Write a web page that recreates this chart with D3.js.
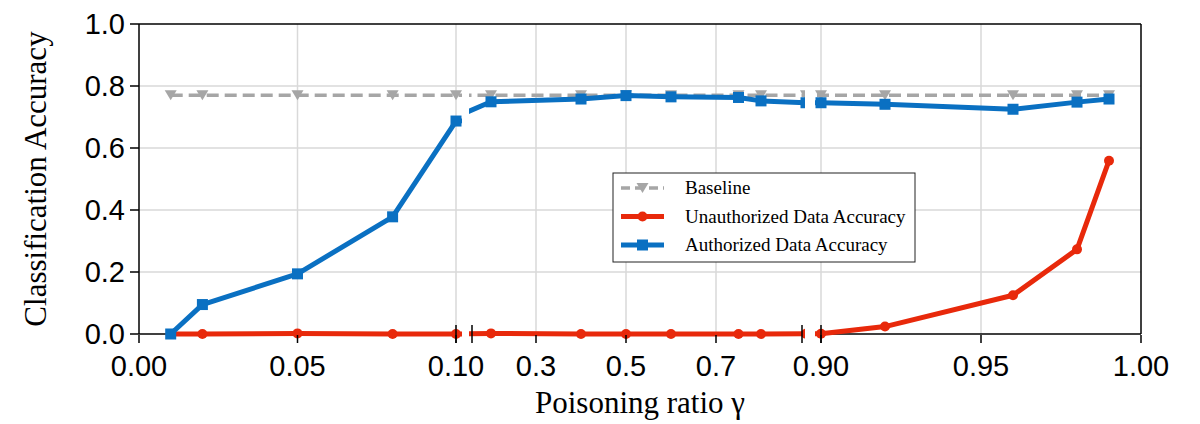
<html>
<script src='https://d3js.org/d3.v7.min.js'></script>
<style>
body {margin: 0; background: white;}
.grid line {stroke: #d9d9d9; stroke-width: 1.5;}
.tick-label {font: 29px "Liberation Sans", Arial, sans-serif; fill: black;}
.axis-title {font: 31px "Liberation Serif", "Times New Roman", serif; fill: black;}
.legend text {font: 19px "Liberation Serif", "Times New Roman", serif; fill: black;}
</style>
<body>
<svg width=1200 height=424></svg>
<script>
// poisoning ratios (x) and accuracies
var ratios = [0.01, 0.02, 0.05, 0.08, 0.10, 0.2, 0.4, 0.5, 0.6, 0.75, 0.8, 0.9, 0.92, 0.96, 0.98, 0.99];
var baseline = [0.77, 0.77, 0.77, 0.77, 0.77, 0.77, 0.77, 0.77, 0.77, 0.77, 0.77, 0.77, 0.77, 0.77, 0.77, 0.77];
var unauthorized = [0.0, 0.0, 0.002, 0.0, 0.0, 0.002, 0.0, 0.0, 0.0, 0.0, 0.0, 0.001, 0.024, 0.125, 0.273, 0.559];
var authorized = [0.0, 0.095, 0.194, 0.378, 0.687, 0.749, 0.758, 0.769, 0.765, 0.763, 0.752, 0.746, 0.741, 0.725, 0.748, 0.758];
var yTicks = [0, 0.2, 0.4, 0.6, 0.8, 1.0];
var segTicks = [[0, 0.05, 0.10], [0.3, 0.5, 0.7], [0.90, 0.95, 1.00]];
var segFormats = [".2f", ".1f", ".2f"];
var segDomains = [[0, 0.10], [0.16, 0.89], [0.90, 1.00]];

function draw() {
var pLeft = 139, pRight = 1141, pTop = 24, pBottom = 334;
// pixel extent of each broken-axis piece
var segRanges = [[139, 456], [473, 801.5], [821, 1141]];
var segClips = [[139, 462], [469, 805], [815, 1141]];

var svg = d3.select("svg");
var y = d3.scaleLinear().domain([0, 1]).range([pBottom, pTop]);

var series = [
  {name: "Baseline", values: baseline, color: "#a6a6a6", dash: "12,6", marker: "tri", width: 3.5},
  {name: "Unauthorized Data Accuracy", values: unauthorized, color: "#e8290b", dash: null, marker: "circle", width: 5},
  {name: "Authorized Data Accuracy", values: authorized, color: "#0a70c2", dash: null, marker: "square", width: 5}
];

var scales = segDomains.map(function(d, i) {
  return d3.scaleLinear().domain(d).range(segRanges[i]);
});

// grid
var grid = svg.append("g").attr("class", "grid");
grid.selectAll(".hg").data(yTicks.slice(1, -1)).enter().append("line")
  .attr("x1", pLeft).attr("x2", pRight)
  .attr("y1", function(d) { return y(d); }).attr("y2", function(d) { return y(d); });
scales.forEach(function(x, i) {
  grid.selectAll(".vg" + i).data(segTicks[i].filter(function(t) { return t > 0 && t < 1; })).enter().append("line")
    .attr("x1", function(d) { return x(d); }).attr("x2", function(d) { return x(d); })
    .attr("y1", pTop).attr("y2", pBottom);
});

// spines (under the data)
var ax = svg.append("g").attr("stroke", "black").attr("stroke-width", 1.5).attr("fill", "none");
ax.append("line").attr("x1", pLeft).attr("x2", pRight).attr("y1", pTop).attr("y2", pTop);
ax.append("line").attr("x1", pLeft).attr("x2", pLeft).attr("y1", pTop).attr("y2", pBottom);
ax.append("line").attr("x1", pRight).attr("x2", pRight).attr("y1", pTop).attr("y2", pBottom);
segClips.forEach(function(c) {
  ax.append("line").attr("x1", c[0]).attr("x2", c[1]).attr("y1", pBottom).attr("y2", pBottom);
});

var defs = svg.append("defs");
segClips.forEach(function(c, i) {
  defs.append("clipPath").attr("id", "clip" + i).append("rect")
    .attr("x", c[0]).attr("y", pTop - 10).attr("width", c[1] - c[0]).attr("height", pBottom - pTop + 20);
});

function drawMarker(g, type, cx, cy, color) {
  if (type == "circle") {
    g.append("circle").attr("cx", cx).attr("cy", cy).attr("r", 5).attr("fill", color);
  } else if (type == "square") {
    g.append("rect").attr("x", cx - 5.5).attr("y", cy - 5.5).attr("width", 11).attr("height", 11).attr("fill", color);
  } else {
    g.append("path").attr("d", "M" + (cx - 6) + "," + (cy - 5) + "L" + (cx + 6) + "," + (cy - 5) + "L" + cx + "," + (cy + 5) + "Z")
      .attr("fill", color);
  }
}

// lines, one copy per axis segment, clipped
scales.forEach(function(x, i) {
  var g = svg.append("g").attr("clip-path", "url(#clip" + i + ")");
  series.forEach(function(s) {
    var pts = ratios.map(function(r, k) { return [r, s.values[k]]; });
    var line = d3.line().x(function(d) { return x(d[0]); }).y(function(d) { return y(d[1]); });
    g.append("path").datum(pts)
      .attr("d", line)
      .attr("fill", "none")
      .attr("stroke", s.color)
      .attr("stroke-width", s.width)
      .attr("stroke-dasharray", s.dash)
      .attr("stroke-linejoin", "round");
    pts.forEach(function(p) {
      var px = x(p[0]);
      if (px >= segClips[i][0] - 6 && px <= segClips[i][1] + 6) drawMarker(g, s.marker, px, y(p[1]), s.color);
    });
  });
});

var tk = svg.append("g").attr("stroke", "black").attr("stroke-width", 1.5).attr("fill", "none");

// y ticks
yTicks.forEach(function(t) {
  tk.append("line").attr("x1", pLeft - 9).attr("x2", pLeft).attr("y1", y(t)).attr("y2", y(t));
  svg.append("text").attr("class", "tick-label")
    .attr("x", pLeft - 14).attr("y", y(t) + 10)
    .attr("text-anchor", "end").text(d3.format(".1f")(t));
});

// x ticks per segment
scales.forEach(function(x, i) {
  segTicks[i].forEach(function(t) {
    tk.append("line").attr("x1", x(t)).attr("x2", x(t)).attr("y1", pBottom + 1).attr("y2", pBottom + 9);
    svg.append("text").attr("class", "tick-label")
      .attr("x", x(t)).attr("y", 376)
      .attr("text-anchor", "middle").text(d3.format(segFormats[i])(t));
  });
});

// break marks
[scales[0](0.10), segRanges[1][0] - 1, segRanges[1][1] + 0.5, scales[2](0.90)].forEach(function(bx) {
  tk.append("line").attr("x1", bx).attr("x2", bx).attr("y1", pBottom - 9).attr("y2", pBottom + 9);
});

// axis titles
svg.append("text").attr("class", "axis-title")
  .attr("x", (pLeft + pRight) / 2).attr("y", 413)
  .attr("text-anchor", "middle").text("Poisoning ratio γ");
svg.append("text").attr("class", "axis-title")
  .attr("transform", "translate(46," + ((pTop + pBottom) / 2) + ") rotate(-90)")
  .attr("text-anchor", "middle").text("Classification Accuracy");

// legend
var lg = svg.append("g").attr("class", "legend");
lg.append("rect").attr("x", 613).attr("y", 173).attr("width", 302).attr("height", 89)
  .attr("fill", "white").attr("stroke", "#222").attr("stroke-width", 1);
series.forEach(function(s, i) {
  var ly = 188 + i * 28.5;
  lg.append("line").attr("x1", 621).attr("x2", 664).attr("y1", ly).attr("y2", ly)
    .attr("stroke", s.color).attr("stroke-width", s.width).attr("stroke-dasharray", s.dash ? "9,5" : null);
  drawMarker(lg, s.marker, 642.5, ly, s.color);
  lg.append("text").attr("x", 685).attr("y", ly).attr("dy", "0.33em").text(s.name);
});
}
draw();
</script>
</body>
</html>
